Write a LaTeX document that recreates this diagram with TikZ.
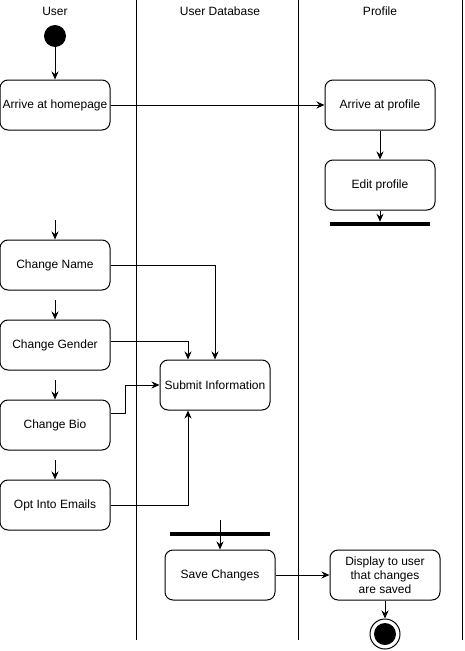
\documentclass[tikz,border=0pt]{standalone}
\usepackage{fontspec}
\setmainfont{Liberation Sans}
\usetikzlibrary{arrows.meta, positioning}

\begin{document}
\begin{tikzpicture}[x=1pt, y=-1pt,
  act/.style={draw, rounded corners=8pt, minimum width=110pt, minimum height=50pt, align=center, inner sep=2pt, font=\fontsize{12}{14}\selectfont, line width=1pt},
  lanehead/.style={font=\fontsize{12}{14}\selectfont},
  syncbar/.style={fill=black, minimum width=100pt, minimum height=4pt, inner sep=0pt},
  flow/.style={-{Stealth[length=8pt, width=7pt]}, line width=1pt}
]
  \useasboundingbox (0,0) rectangle (464,651);

  % swimlanes
  \node[lanehead] (hUser) at (55,11) {User};
  \node[lanehead] (hDb) at (220,11) {User Database};
  \node[lanehead] (hProf) at (380,11) {Profile};
  \draw[line width=1pt] (136,0) -- (136,640);
  \draw[line width=1pt] (298,0) -- (298,640);
  \draw[line width=1pt] (462,0) -- (462,640);

  \node[circle, fill=black, minimum size=22pt, inner sep=0pt] (start) at (55,36) {};
  \node[act] (home) at (55,105) {Arrive at homepage};
  \node[act] (arrive) at (380,105) {Arrive at profile};
  \node[act] (edit) at (380,185) {Edit profile};
  \node[syncbar] (bar1) at (380,224) {};

  \node[act] (name) at (55,265) {Change Name};
  \node[act] (gender) at (55,345) {Change Gender};
  \node[act] (bio) at (55,425) {Change Bio};
  \node[act] (emails) at (55,505) {Opt Into Emails};
  \node[act] (submit) at (215,385) {Submit Information};

  \node[syncbar] (bar2) at (220,534) {};
  \node[act] (save) at (220,575) {Save Changes};
  \node[act] (display) at (385,575) {Display to user\\that changes\\are saved};
  \node[circle, draw, line width=1pt, minimum size=30pt, inner sep=0pt] (finish) at (385,634) {};
  \node[circle, fill=black, minimum size=22pt, inner sep=0pt] (finishdot) at (385,634) {};

  \coordinate (inName) at (55,220);
  \coordinate (inGender) at (55,300);
  \coordinate (inBio) at (55,380);
  \coordinate (inEmails) at (55,460);
  \coordinate (inSave) at (220,520);

  \draw[flow] (start) -- (home);
  \draw[flow] (home) -- (arrive);
  \draw[flow] (arrive) -- (edit);
  \draw[flow] (edit) -- (bar1.north);
  \draw[flow] (inName) -- (name);
  \draw[flow] (inGender) -- (gender);
  \draw[flow] (inBio) -- (bio);
  \draw[flow] (inEmails) -- (emails);
  \draw[flow] (name.east) -| (submit.north);
  \draw[flow] ([yshift=4pt]gender.east) -| ([xshift=-27pt]submit.north);
  \draw[flow] ([yshift=12pt]bio.east) -- ++(15,0) |- (submit.west);
  \draw[flow] (emails.east) -| ([xshift=-27pt]submit.south);
  \draw[flow] (inSave) -- (save);
  \draw[flow] (save) -- (display);
  \draw[flow] (display) -- (finish);
\end{tikzpicture}
\end{document}
